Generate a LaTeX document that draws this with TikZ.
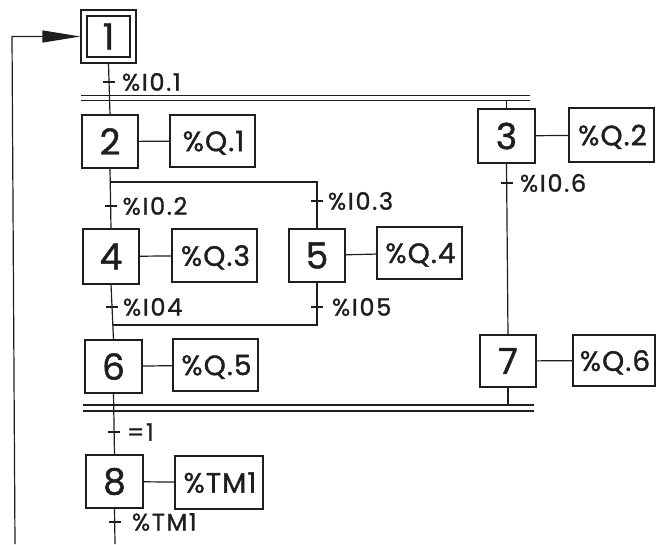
\documentclass[tikz,border=0pt]{standalone}
\usepackage{fontspec}
\setmainfont{Poppins}[FakeBold=1.2,UprightFont=*,BoldFont=*]
\newfontfamily\spacedfont{Poppins}[FakeBold=1.2,LetterSpace=7]
\newfontfamily\actfont{Poppins}[FakeBold=1.2,LetterSpace=4]
\usetikzlibrary{arrows.meta}
\definecolor{ink}{HTML}{1E1E1E}
\begin{document}
\begin{tikzpicture}[x=1pt,y=-1pt,
  every node/.style={inner sep=0pt, outer sep=0pt, text=ink},
  stepbox/.style={draw=ink, line width=1.4pt, minimum width=56pt, minimum height=53pt, font=\fontsize{36}{36}\selectfont\bfseries},
  actbox/.style={draw=ink, line width=1.4pt, minimum width=85pt, minimum height=52pt, font=\fontsize{28}{28}\actfont},
  tlabel/.style={anchor=west, font=\fontsize{24}{24}\spacedfont},
  link/.style={draw=ink, line width=1.2pt},
  bar/.style={draw=ink, line width=1.4pt},
  tick/.style={draw=ink, line width=1.2pt}
]
\useasboundingbox[fill=white] (0,0) rectangle (656,544);

% steps
\node[stepbox, double, double distance=4.8pt, line width=1.2pt, minimum width=49pt, minimum height=47pt, outer sep=3.6pt] (s1) at (108.5,36.5) {1};
\node[stepbox] (s2) at (110,141.5) {2};
\node[stepbox, minimum width=57pt, minimum height=54pt] (s3) at (506.5,136) {3};
\node[stepbox, minimum height=55pt] (s4) at (111,256.5) {4};
\node[stepbox] (s5) at (317,255.5) {5};
\node[stepbox, minimum width=57pt] (s6) at (113.5,366.5) {6};
\node[stepbox, minimum height=52pt] (s7) at (508,361) {7};
\node[stepbox, minimum width=57pt] (s8) at (114.5,481.5) {8};

% actions (text nudged right to offset trailing letter space)
\begin{scope}[every node/.append style={text depth=0pt}]
\node[actbox] (a1) at (212.5,141) {\hspace{2pt}\%Q.1};
\node[actbox, minimum height=54pt] (a2) at (611.5,135) {\hspace{2pt}\%Q.2};
\node[actbox, minimum height=53pt] (a3) at (214.5,255.5) {\hspace{2pt}\%Q.3};
\node[actbox] (a4) at (419.5,253) {\hspace{2pt}\%Q.4};
\node[actbox] (a5) at (215.5,365) {\hspace{2pt}\%Q.5};
\node[actbox, minimum width=82pt, minimum height=51pt] (a6) at (614,360.5) {\hspace{2pt}\%Q.6};
\node[actbox, minimum width=88pt, minimum height=53pt] (a7) at (219,482.5) {\hspace{2pt}\%TM1};
\end{scope}

\foreach \s/\a in {s2/a1,s3/a2,s4/a3,s5/a4,s6/a5,s7/a6,s8/a7}
  \draw[link] (\s) -- (\a);

% simultaneous bars
\coordinate (b1u) at (81,95.5);
\coordinate (b1d) at (81,100.5);
\draw[bar] (b1u) -- (530,95.5);
\draw[bar] (b1d) -- (530,100.5);
\coordinate (b2u) at (83,405);
\coordinate (b2d) at (83,411);
\draw[bar] (b2u) -- (534,405);
\draw[bar] (b2d) -- (534,411);

% main connectors
\draw[link] (s1.south) -- (s2.north);
\draw[link] (s3.north |- b1d) -- (s3.north);
\draw[link] (s2.south) -- (s4.north);
\draw[link] (s2.south |- 0,182) -| (s5.north);
\draw[link] (s4.south) -- (s6.north);
\draw[link] (s5.south) |- (112.6,325);
\draw[link] (s3.south) -- (s7.north);
\draw[link] (s7.south) -- (s7.south |- b2u);
\draw[link] (s6.south) -- (s8.north);
\coordinate (bot) at (115,544);
\draw[link] (s8.south) -- (bot);

% loop back to step 1
\coordinate (lb) at (15,544);
\coordinate (lt) at (12,36.5);
\draw[link, -{Triangle[length=38pt,width=12pt]}] (lb) -- (lt) -- (s1.west);

% transitions
\foreach \n/\x/\y/\dx/\t in {
  t1/109/82/13/{\%I0.1},
  t2/110.6/206/12/{\%I0.2},
  t3/317/201/11/{\%I0.3},
  t4/507/183/13/{\%I0.6},
  t5/112/307/11/{\%I04},
  t6/317/307/15/{\%I05},
  t7/114/432/13/{=1},
  t8/115/522/17/{\%TM1}}{
  \coordinate (\n) at (\x,\y);
  \draw[tick] ([xshift=-6pt]\n) -- ([xshift=6pt]\n);
  \node[tlabel] (\n l) at ([xshift=\dx pt]\n) {\t};
}
\end{tikzpicture}
\end{document}
